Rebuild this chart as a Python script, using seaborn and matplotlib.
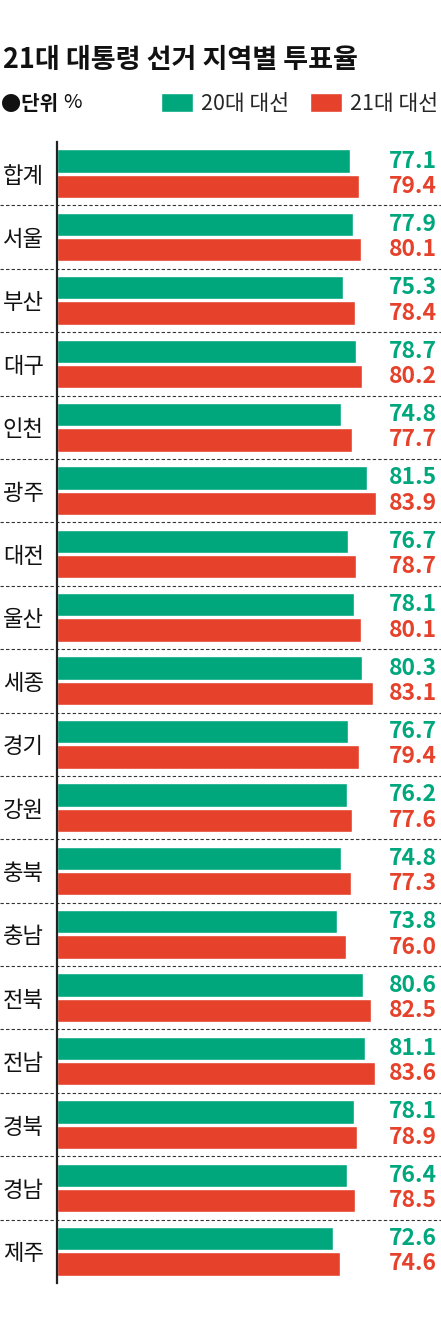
import pandas as pd
import seaborn as sns
import matplotlib.pyplot as plt
from matplotlib.patches import Patch
from matplotlib.transforms import blended_transform_factory

sns.set_style("white")
plt.rcParams["font.family"] = ["Noto Sans CJK KR", "DejaVu Sans"]

# data
regions = ['합계', '서울', '부산', '대구', '인천', '광주', '대전', '울산', '세종',
           '경기', '강원', '충북', '충남', '전북', '전남', '경북', '경남', '제주']
turnout_20 = [77.1, 77.9, 75.3, 78.7, 74.8, 81.5, 76.7, 78.1, 80.3,
              76.7, 76.2, 74.8, 73.8, 80.6, 81.1, 78.1, 76.4, 72.6]
turnout_21 = [79.4, 80.1, 78.4, 80.2, 77.7, 83.9, 78.7, 80.1, 83.1,
              79.4, 77.6, 77.3, 76.0, 82.5, 83.6, 78.9, 78.5, 74.6]
elections = ['20대 대선', '21대 대선']

GREEN = '#00A77D'
RED = '#E5412B'
palette = {elections[0]: GREEN, elections[1]: RED}

df = pd.concat([
    pd.DataFrame({'region': regions, 'rate': turnout_20, 'election': elections[0]}),
    pd.DataFrame({'region': regions, 'rate': turnout_21, 'election': elections[1]}),
])

W, H = 441, 1317
fig = plt.figure(figsize=(W / 100, H / 100), dpi=100)
ax_left, ax_right, ax_top, ax_bot = 57, 441, 142, 1283
ax = fig.add_axes([ax_left / W, 1 - ax_bot / H, (ax_right - ax_left) / W, (ax_bot - ax_top) / H])

sns.barplot(data=df, y='region', x='rate', hue='election', hue_order=elections,
            palette=palette, orient='h', width=0.8, gap=0.08, saturation=1,
            legend=False, ax=ax)

ax.set_xlim(0, (ax_right - ax_left) / 3.8)
ax.set_ylim(len(regions) - 0.5, -0.5)
ax.set_xlabel('')
ax.set_ylabel('')
ax.set_xticks([])
for s in ['top', 'right', 'bottom']:
    ax.spines[s].set_visible(False)
ax.spines['left'].set_color('#222222')
ax.spines['left'].set_linewidth(1.6)

# region labels, left aligned at the figure edge
ax.set_yticks(range(len(regions)))
ax.set_yticklabels(regions, ha='left', fontsize=16, color='#111111')
ax.tick_params(axis='y', length=0, pad=39)

# dashed separators between regions across the whole width
for i in range(len(regions) - 1):
    ax.axhline(i + 0.5, xmin=-ax_left / (ax_right - ax_left), xmax=1,
               color='#333333', lw=0.8, ls=(0, (3, 2)), clip_on=False)

# value labels on the right
tr = blended_transform_factory(ax.transAxes, ax.transData)
for cont, color in zip(ax.containers, [GREEN, RED]):
    for bar in cont:
        yc = bar.get_y() + bar.get_height() / 2
        ax.text(0.99, yc, f"{bar.get_width():.1f}", transform=tr, ha='right', va='center',
                fontsize=16.5, fontweight='heavy', color=color)

# title and unit
fig.text(3 / W, 1 - 60 / H, '21대 대통령 선거 지역별 투표율', fontsize=19.5,
         fontweight='heavy', ha='left', va='center', color='#111111')
fig.text(1 / W, 1 - 103 / H, '●단위', fontsize=14.5, fontweight='bold',
         ha='left', va='center', color='#111111')
fig.text(63 / W, 1 - 103 / H, '%', fontsize=14.5, ha='left', va='center', color='#111111')

handles = [Patch(facecolor=GREEN, label=elections[0]), Patch(facecolor=RED, label=elections[1])]
fig.legend(handles=handles, loc='center right', bbox_to_anchor=(438 / W, 1 - 104 / H),
           ncol=2, frameon=False, fontsize=15.5, handlelength=1.5, handleheight=1.0,
           handletextpad=0.38, columnspacing=0.95, borderaxespad=0, borderpad=0)

fig.savefig('out.png', dpi=100)
